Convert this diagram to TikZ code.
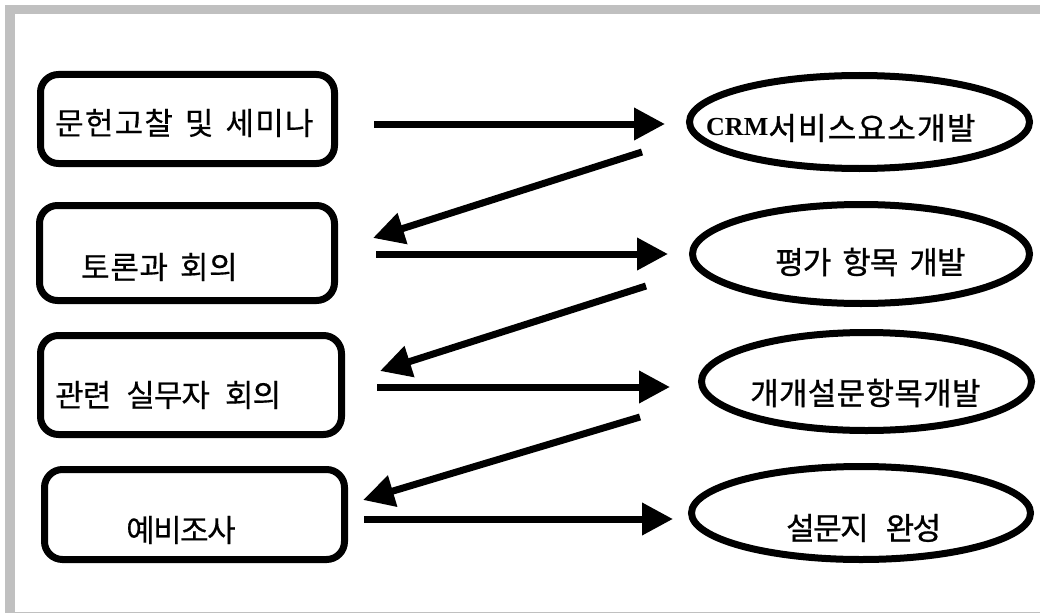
\documentclass[tikz,border=0pt]{standalone}
\usepackage{fontspec}
\setmainfont{Liberation Serif}
\newfontfamily\krfont{Noto Sans CJK KR}
\usetikzlibrary{arrows.meta,shapes.geometric}
\definecolor{framegray}{RGB}{192,192,192}
\newcommand\kt[2]{{\krfont\addfontfeatures{LetterSpace=#1,FakeBold=0.4}#2}}
\newcommand\ktb[2]{{\krfont\addfontfeatures{LetterSpace=#1,FakeBold=0.9}#2}}
\newcommand\gap[1]{\hspace*{#1pt}}
\begin{document}
\begin{tikzpicture}[x=1pt,y=-1pt,
  boxnode/.style={draw,line width=7pt,rounded corners=18pt,inner sep=0pt,outer sep=0pt},
  ovalnode/.style={draw,ellipse,line width=7pt,inner sep=0pt,outer sep=0pt},
  txt/.style={anchor=west,inner sep=0pt,font=\fontsize{31}{36}\selectfont},
  flow/.style={line width=7pt,-{Triangle[length=31pt,width=31pt]}}]
\useasboundingbox (0,0) rectangle (1040,615);
% frame
\fill[framegray] (5,5) rectangle (1040,14);
\fill[framegray] (5,5) rectangle (15,613);
\fill[framegray] (5,611.5) rectangle (1040,613);
% boxes
\node[boxnode,minimum width=294pt,minimum height=89pt] (b1) at (187.5,119) {};
\node[boxnode,minimum width=295pt,minimum height=95pt] (b2) at (187,253) {};
\node[boxnode,minimum width=301pt,minimum height=99pt] (b3) at (191,385) {};
\node[boxnode,minimum width=300pt,minimum height=90pt] (b4) at (194.5,514.5) {};
% ellipses
\node[ovalnode,minimum width=340pt,minimum height=93pt] (e1) at (859.5,122) {};
\node[ovalnode,minimum width=337pt,minimum height=99pt] (e2) at (861,254) {};
\node[ovalnode,minimum width=330pt,minimum height=98pt] (e3) at (866.5,381.5) {};
\node[ovalnode,minimum width=339pt,minimum height=93pt] (e4) at (861,513) {};
% texts
\node[txt] (t1) at (55,123) {\kt{4}{문헌고찰\gap{12}및\gap{12}세미나}};
\node[txt] (t2) at (81,267) {\kt{2}{토론과\gap{12}회의}};
\node[txt] (t3) at (55,395) {\kt{-3}{관련\gap{15}실무자\gap{15}회의}};
\node[txt] (t4) at (126,530) {\kt{-5}{예비조사}};
\node[txt] (u1) at (706,128) {\raisebox{4pt}{\fontsize{26}{30}\selectfont\bfseries CRM}\ktb{4}{서비스요소개발}};
\node[txt] (u2) at (775,262) {\ktb{-3}{평가\gap{11}항목\gap{11}개발}};
\node[txt] (u3) at (750,393) {\ktb{1}{개개설문항목개발}};
\node[txt] (u4) at (786,528) {\ktb{-5}{설문지\gap{17}완성}};
% connectors
\draw[flow] ([shift={(39.5,5)}]b1.east) -- ([shift={(-24.5,2)}]e1.west);
\draw[flow] ([shift={(-47.5,30)}]e1.west) -- ([shift={(38.5,-15)}]b2.east);
\draw[flow] ([shift={(41.5,1)}]b2.east) -- ([shift={(-24.5,0)}]e2.west);
\draw[flow] ([shift={(-46.5,32)}]e2.west) -- ([shift={(38.5,-14)}]b3.east);
\draw[flow] ([shift={(35.5,2)}]b3.east) -- ([shift={(-31.5,5.5)}]e3.west);
\draw[flow] ([shift={(-61.5,35.5)}]e3.west) -- ([shift={(18.5,-14.5)}]b4.east);
\draw[flow] ([shift={(19.5,4.5)}]b4.east) -- ([shift={(-18.5,6)}]e4.west);
\end{tikzpicture}
\end{document}
